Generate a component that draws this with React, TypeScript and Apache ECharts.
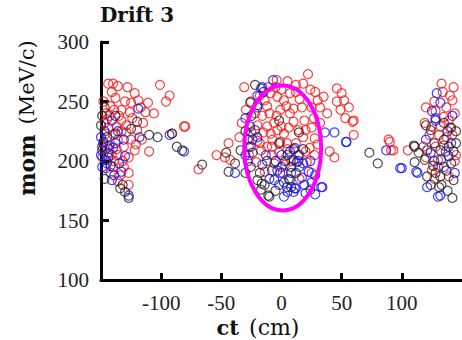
import React, { useEffect, useRef } from "react";
import * as echarts from "echarts";

const titleText = "Drift 3";
const xTicks = { min: -150, max: 150, interval: 50 };
const yTicks = { min: 100, max: 300, interval: 50 };

const redPoints: number[][] = [
  [-144, 265], [-140, 265], [-136, 263], [-128, 262], [-101, 264], [-93, 255], [-96, 250], [-138, 253],
  [-130, 250], [-125, 249], [-119, 251], [-111, 249], [-133, 243], [-126, 241], [-113, 241], [-133, 234],
  [-144, 228], [-137, 229], [-146, 223], [-140, 222], [-91, 223], [-125, 218], [-131, 212], [-122, 209],
  [-110, 208], [-136, 205], [-127, 203], [-140, 195], [-131, 195], [-127, 190], [-127, 180], [-80, 229],
  [-146, 240], [-142, 246], [-135, 238], [-120, 226], [-115, 232], [-106, 240], [-148, 215], [-143, 210],
  [-139, 200], [-134, 188], [-145, 235], [-141, 258], [-122, 257], [-117, 245], [-148, 250],
  [-147, 232], [-143, 238], [-139, 243], [-136, 218], [-133, 225], [-129, 230], [-124, 236], [-145, 212],
  [-141, 205], [-137, 210], [-121, 214], [-116, 218], [-129, 224], [-149, 203], [-142, 190], [-136, 183],
  [-132, 200],
  [-81, 229], [-44, 215], [-54, 205], [-42.6, 201], [-69, 193], [-35, 220], [-47, 203],
  [5, 267], [12, 264], [22, 273], [24, 260], [35, 254], [46, 261], [50, 257], [52, 251], [46, 250],
  [49, 243], [56, 245], [60, 234], [53, 236], [30, 251], [32, 245], [60, 222], [40, 208], [44, 203],
  [-25.5, 250], [-29.6, 243], [-14, 251], [-9, 257], [-3.5, 254], [2, 251], [7, 257], [-10, 240],
  [-1, 243], [7, 240], [-12, 229], [-9, 223], [-3.5, 226], [2, 223], [-7.6, 218], [-1, 216], [4.6, 215],
  [-17, 209], [-12, 212], [-2, 207], [-21, 199], [-6, 198], [3, 197], [17, 245], [25, 245], [25, 228],
  [27.6, 219], [19, 234], [23.5, 211], [21, 199], [27.5, 205], [25, 190], [-31, 262], [-5, 262],
  [15, 252], [10, 233], [14, 226], [-6, 232], [-16, 238], [12, 215], [18, 220], [-8, 205], [8, 200],
  [-20, 217], [0, 229], [-25, 224], [32, 232], [-14, 191], [20, 208], [30, 214], [15, 185], [1, 190],
  [-27, 212], [38, 240], [-33, 232],
  [-18, 255], [-22, 240], [-12, 246], [4, 246], [10, 244], [-4, 238], [6, 228], [-15, 224], [-8, 212],
  [5, 210], [15, 205], [-20, 230], [-27, 205], [12, 258], [18, 265], [28, 258], [-4, 268], [0, 260],
  [20, 226], [27, 236], [-11, 262], [-18, 215],
  [89, 218], [91, 209], [105, 209], [90, 216], [93, 209], [59, 233], [120, 245], [133, 265], [125, 229],
  [127, 250], [137, 245], [142, 251], [119, 232], [135, 237], [139, 234], [132, 229], [137, 220],
  [120, 203], [130, 201], [125, 192], [139, 187], [130, 195], [144, 240], [142, 222], [145, 205],
  [128, 212], [134, 258], [143, 262],
  [128, 242], [140, 228], [135, 213], [123, 222], [131, 222], [144, 200], [127, 185], [140, 255], [118, 212],
];

const bluePoints: number[][] = [
  [-119, 244], [-141, 234], [-118, 220], [-93, 222], [-148, 216], [-138, 215], [-149, 209], [-144, 207],
  [-130, 204], [-149, 195], [-146, 194], [-141, 184], [-133, 191], [-127, 171], [-81, 208], [-146, 201],
  [-143, 213], [-135, 198], [-139, 188], [-147, 225],
  [-150, 220], [-145, 198], [-140, 211], [-136, 225], [-131, 218], [-150, 205],
  [-38.6, 190],
  [-17, 261], [-7, 268], [36, 224], [44, 224], [54, 216], [-16, 262], [-20, 245], [-30, 236], [-26, 229],
  [-20, 220], [-25.5, 212], [-13, 205], [7, 208], [-16, 197], [-3.5, 192], [10, 201], [-6, 184], [-1, 190],
  [4.6, 178], [7, 184], [11, 177], [11, 211], [12.6, 199], [17, 186], [22.6, 191], [33, 178], [10, 174],
  [19, 180], [5, 174], [12, 177], [34, 178], [-28, 200], [0, 205], [15, 195], [-10, 185], [25, 182],
  [8, 190], [18, 198], [-2, 180], [28, 188],
  [-24, 218], [-5, 200], [14, 205], [24, 200], [-30, 205], [2, 170], [20, 173], [28, 172], [-20, 255], [0, 195],
  [87, 209], [53.6, 216], [100, 194], [113, 190],
  [129, 257], [132, 249], [128, 234], [120, 218], [98.6, 194], [112, 191], [124, 207], [136.5, 208],
  [132, 171], [135, 195], [130, 170], [128, 236], [141, 215], [144, 190], [138, 225],
  [125, 242], [142, 238], [127, 200], [139, 204], [121, 178],
];

const blackPoints: number[][] = [
  [-120, 233], [-138, 223], [-110, 222], [-103, 220], [-144, 203], [-134, 177], [-130, 174], [-127, 169],
  [-150, 230], [-147, 245], [-149, 238], [-145, 220], [-147, 185], [-132, 180],
  [-149, 212], [-142, 196], [-138, 238], [-125, 227],
  [-91, 223], [-87, 212], [-82.6, 209], [-46, 207], [-38.6, 198], [-44, 191], [-66, 197],
  [-22, 264], [-26, 249], [-20, 247], [-2, 234], [-22, 226], [-24, 207], [-34, 209], [-25.5, 195],
  [-20, 184], [-14, 180], [-10, 170], [-17, 176], [-16.5, 181], [-11, 171], [14.5, 224], [5, 205],
  [8, 195], [12, 190], [3, 200], [10, 210], [-5, 175], [6, 185], [-12, 200], [-28, 218], [-30, 190],
  [-18, 190], [-8, 192], [2, 182], [14, 200], [18, 210], [-2, 215], [-25, 238], [-15, 258], [24, 176],
  [8, 178], [-30, 225],
  [73, 207], [80, 198], [110, 213], [114, 207], [110.6, 212],
  [120, 230], [141, 228], [124, 226], [127, 215], [110.6, 199], [119, 201], [121, 209], [132, 209],
  [139, 212], [121, 187], [131, 178], [141, 198], [143, 184], [132, 187], [132.6, 201], [133, 180],
  [142, 169], [126, 196], [137, 192], [145, 215],
  [135, 232], [145, 225], [128, 190], [138, 175], [124, 180], [135, 218], [143, 208],
];

// ellipse: [centerX, centerY, radiusX, radiusY]
const ellipseData: number[][] = [[1, 211, 32, 52.5]];

const scatter = (name: string, data: number[][], color: string) => ({
  name,
  type: "scatter",
  data,
  symbol: "circle",
  symbolSize: 9,
  clip: true,
  itemStyle: { color: "rgba(0,0,0,0)", borderColor: color, borderWidth: 1.2 },
  emphasis: { disabled: true },
});

export default function App() {
  const ref = useRef<HTMLDivElement>(null);
  useEffect(() => {
    if (!ref.current) return;
    const chart = echarts.init(ref.current, null, { renderer: "svg" });
    chart.setOption({
      animation: false,
      backgroundColor: "#fff",
      title: {
        text: titleText,
        left: 100,
        top: 5,
        padding: 0,
        textStyle: { fontFamily: "DejaVu Serif", fontWeight: "bold", fontSize: 20, color: "#111" },
      },
      grid: { left: 101, top: 42, bottom: 60, right: -6, containLabel: false },
      xAxis: {
        type: "value",
        min: xTicks.min,
        max: xTicks.max,
        interval: xTicks.interval,
        axisLine: { show: true, onZero: false, lineStyle: { color: "#000", width: 3 } },
        axisTick: { show: true, inside: true, length: 7, lineStyle: { color: "#000", width: 3 } },
        axisLabel: {
          showMinLabel: false,
          showMaxLabel: false,
          margin: 12,
          color: "#222",
          fontFamily: "Liberation Serif",
          fontSize: 21,
        },
        splitLine: { show: false },
      },
      yAxis: {
        type: "value",
        min: yTicks.min,
        max: yTicks.max,
        interval: yTicks.interval,
        axisLine: { show: true, onZero: false, lineStyle: { color: "#000", width: 3 } },
        axisTick: { show: true, inside: true, length: 8, lineStyle: { color: "#000", width: 3 } },
        axisLabel: {
          margin: 12,
          color: "#222",
          fontFamily: "Liberation Serif",
          fontSize: 21,
        },
        splitLine: { show: false },
      },
      graphic: [
        {
          type: "text",
          x: 258,
          y: 327,
          style: {
            text: "{b|ct}   {r|(cm)}",
            align: "center",
            verticalAlign: "middle",
            rich: {
              b: { fontFamily: "DejaVu Serif", fontWeight: "bold", fontSize: 21, fill: "#111" },
              r: { fontFamily: "DejaVu Serif", fontSize: 22, fill: "#111" },
            },
          },
        },
        {
          type: "text",
          x: 27,
          y: 118,
          rotation: Math.PI / 2,
          style: {
            text: "{b|mom}   {r|(MeV/c)}",
            align: "center",
            verticalAlign: "middle",
            rich: {
              b: { fontFamily: "DejaVu Serif", fontWeight: "bold", fontSize: 22, fill: "#111" },
              r: { fontFamily: "DejaVu Serif", fontSize: 21, fill: "#111" },
            },
          },
        },
      ],
      series: [
        scatter("red", redPoints, "#ff1010"),
        scatter("blue", bluePoints, "#1010ff"),
        scatter("black", blackPoints, "#222"),
        {
          type: "custom",
          data: ellipseData,
          z: 5,
          silent: true,
          renderItem: (params: any, api: any) => {
            const c = api.coord([api.value(0), api.value(1)]);
            const s = api.size([api.value(2), api.value(3)]);
            return {
              type: "ellipse",
              shape: { cx: c[0], cy: c[1], rx: s[0], ry: s[1] },
              style: { fill: "none", stroke: "#ff00ff", lineWidth: 4 },
            };
          },
        },
      ],
    });
    return () => chart.dispose();
  }, []);
  return (
    <div
      ref={ref}
      style={{ position: "absolute", left: 0, top: 0, width: 462, height: 340 }}
    />
  );
}
